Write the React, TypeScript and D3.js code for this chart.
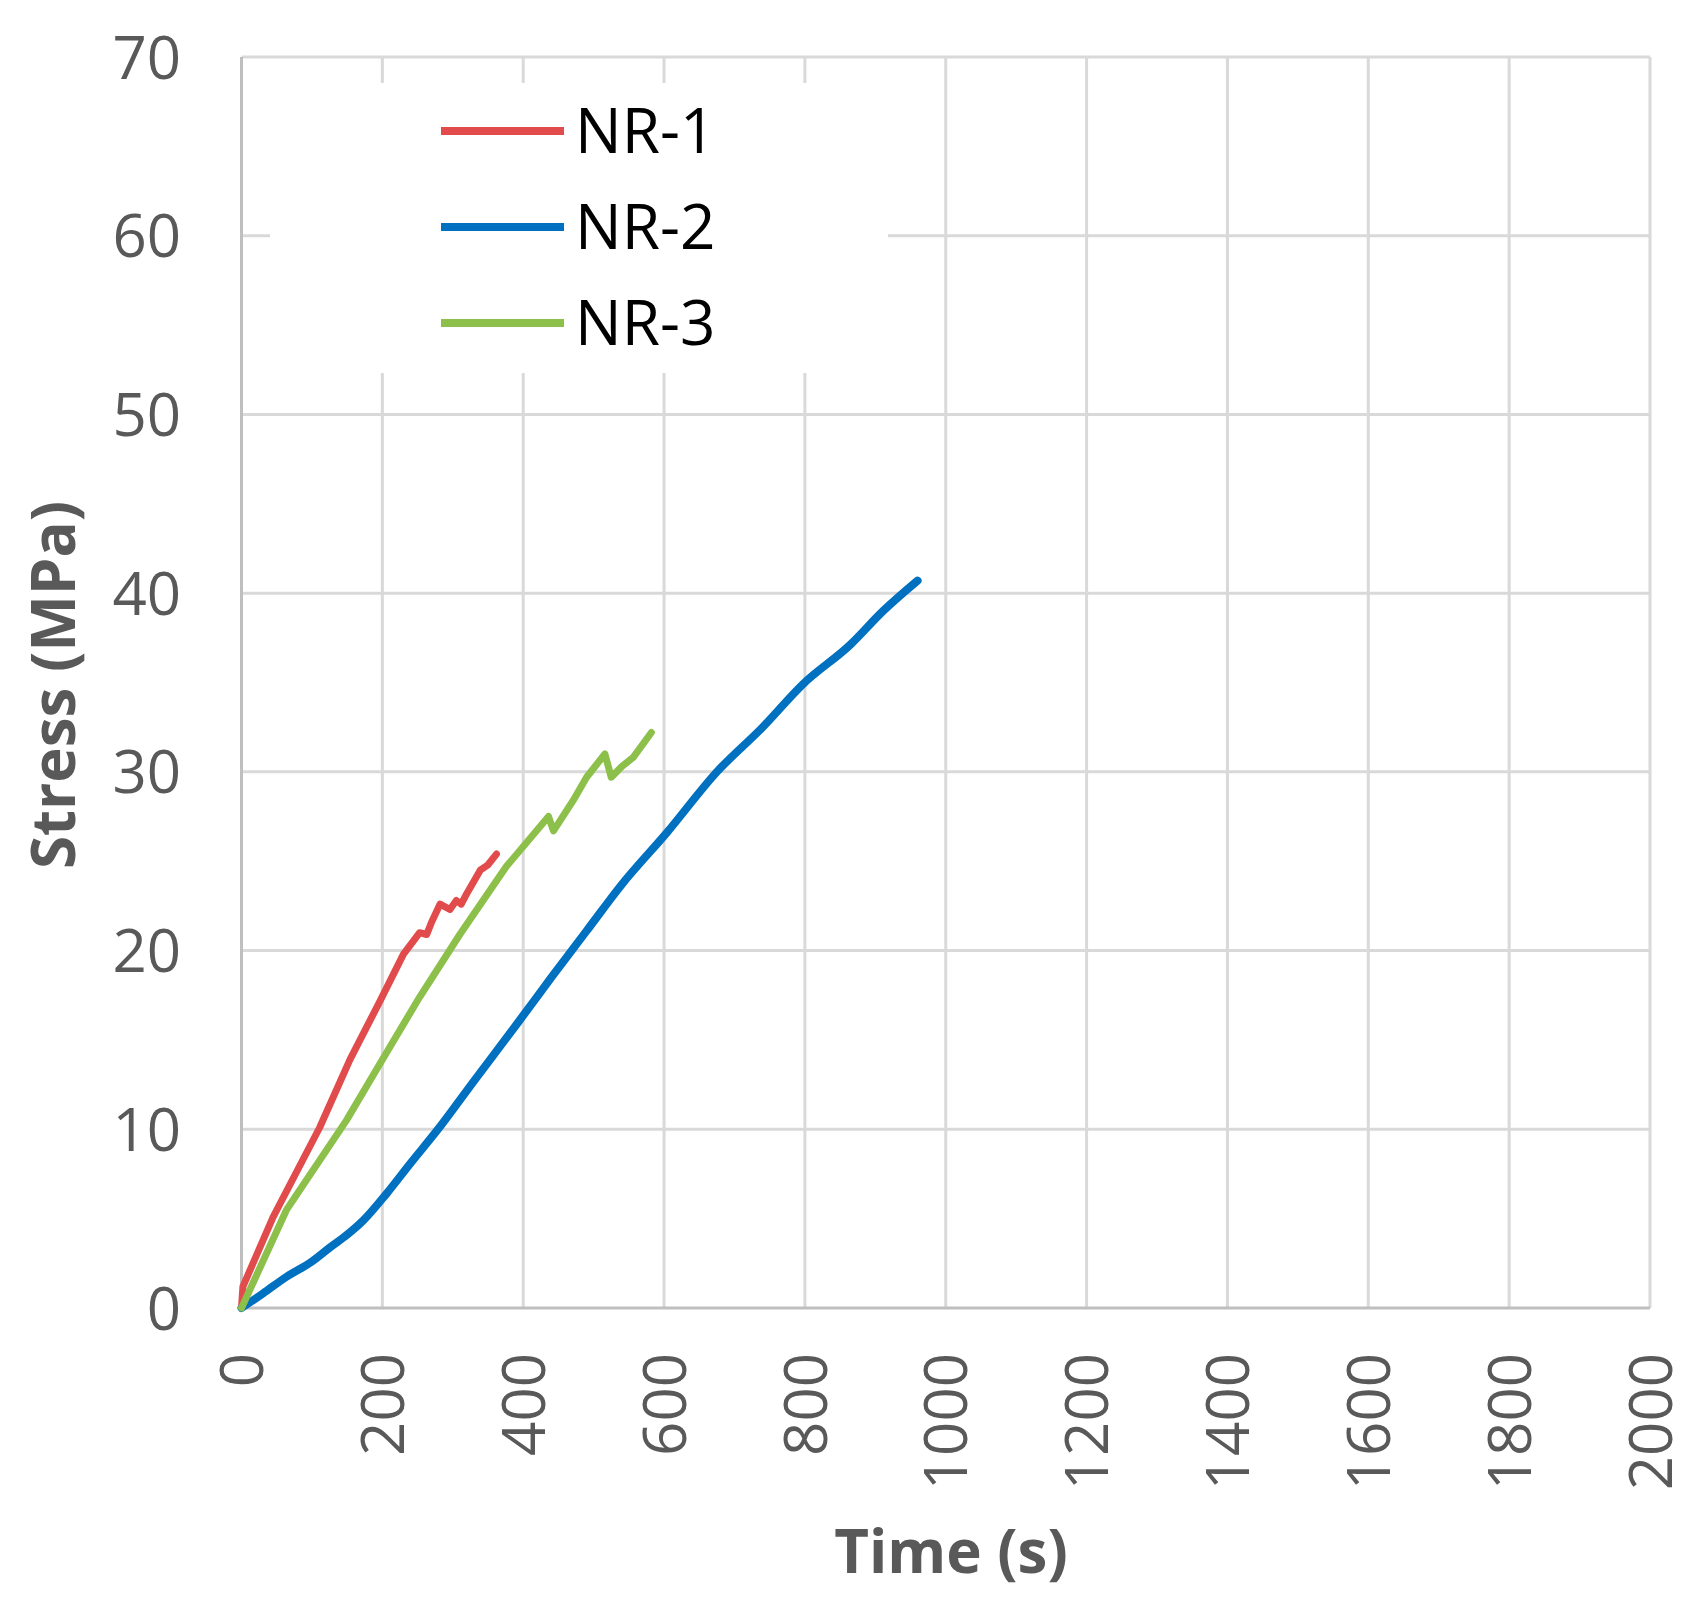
import React, { useEffect, useRef } from 'react';
import * as d3 from 'd3';

// values: [time (s), stress (MPa)]
const nr1: [number, number][] = [
  [0, 0], [2, 1.2], [45, 5.1], [111, 10.1], [154, 13.9], [197, 17.2], [230, 19.8],
  [253, 21.0], [263, 20.9], [270, 21.6], [282, 22.6], [296, 22.3], [305, 22.8],
  [312, 22.6], [320, 23.2], [339, 24.5], [350, 24.8], [362, 25.4],
];
const nr2: [number, number][] = [
  [0, 0], [30, 0.8], [64, 1.75], [100, 2.6], [126, 3.4], [150, 4.1], [173, 4.9],
  [206, 6.4], [240, 8.1], [277, 9.9], [330, 12.7], [395, 16.1], [440, 18.5],
  [490, 21.1], [540, 23.7], [604, 26.6], [675, 30.0], [740, 32.5], [797, 34.9],
  [864, 37.1], [911, 39.0], [960, 40.7],
];
const nr3: [number, number][] = [
  [0, 0], [64, 5.5], [149, 10.5], [197, 13.7], [253, 17.4], [310, 20.9], [376, 24.7],
  [436, 27.5], [443, 26.7], [471, 28.4], [490, 29.7], [516, 31.0], [525, 29.7],
  [540, 30.3], [556, 30.8], [582, 32.2],
];

const seriesNames = ['NR-1', 'NR-2', 'NR-3'];
const seriesColors = ['#E24B4B', '#0070C0', '#8CC04A'];
const seriesWidths = [7, 8, 7];
const xTicks = [0, 200, 400, 600, 800, 1000, 1200, 1400, 1600, 1800, 2000];
const yTicks = [0, 10, 20, 30, 40, 50, 60, 70];

const width = 1699;
const height = 1604;

const App = () => {
  const ref = useRef<SVGSVGElement>(null);

  useEffect(() => {
    const svg = d3.select(ref.current);
    svg.selectAll('*').remove();

    const x = d3.scaleLinear().domain([0, 2000]).range([241.5, 1650]);
    const y = d3.scaleLinear().domain([0, 70]).range([1308, 57]);
    const font = '"Open Sans", "DejaVu Sans", sans-serif';

    // grid
    svg.append('g')
      .selectAll('line')
      .data(xTicks.slice(1))
      .join('line')
      .attr('x1', d => x(d)).attr('x2', d => x(d))
      .attr('y1', y(0)).attr('y2', y(70))
      .attr('stroke', '#D9D9D9').attr('stroke-width', 3);
    svg.append('g')
      .selectAll('line')
      .data(yTicks.slice(1))
      .join('line')
      .attr('x1', x(0)).attr('x2', x(2000))
      .attr('y1', d => y(d)).attr('y2', d => y(d))
      .attr('stroke', '#D9D9D9').attr('stroke-width', 3);

    // axis lines
    svg.append('line')
      .attr('x1', x(0)).attr('x2', x(0)).attr('y1', y(0)).attr('y2', y(70))
      .attr('stroke', '#BFBFBF').attr('stroke-width', 3);
    svg.append('line')
      .attr('x1', x(0)).attr('x2', x(2000)).attr('y1', y(0)).attr('y2', y(0))
      .attr('stroke', '#BFBFBF').attr('stroke-width', 3);

    // tick labels
    svg.append('g')
      .selectAll('text')
      .data(yTicks)
      .join('text')
      .attr('x', 181)
      .attr('y', d => y(d))
      .attr('dy', '0.36em')
      .attr('text-anchor', 'end')
      .attr('font-family', font)
      .attr('font-size', 60)
      .attr('fill', '#595959')
      .text(d => d);
    svg.append('g')
      .selectAll('text')
      .data(xTicks)
      .join('text')
      .attr('transform', d => `translate(${x(d)},1353) rotate(-90)`)
      .attr('dy', '0.36em')
      .attr('text-anchor', 'end')
      .attr('font-family', font)
      .attr('font-size', 60)
      .attr('fill', '#595959')
      .text(d => d);

    // axis titles
    svg.append('text')
      .attr('x', 951).attr('y', 1573)
      .attr('text-anchor', 'middle')
      .attr('font-family', font).attr('font-weight', 'bold')
      .attr('font-size', 60).attr('fill', '#595959')
      .text('Time (s)');
    svg.append('text')
      .attr('transform', 'translate(75,685) rotate(-90)')
      .attr('text-anchor', 'middle')
      .attr('font-family', font).attr('font-weight', 'bold')
      .attr('font-size', 60).attr('fill', '#595959')
      .text('Stress (MPa)');

    // curves: NR-2 is smooth, the other two keep their jagged steps
    const straight = d3.line<[number, number]>()
      .x(d => x(d[0]))
      .y(d => y(d[1]));
    const smooth = d3.line<[number, number]>()
      .x(d => x(d[0]))
      .y(d => y(d[1]))
      .curve(d3.curveMonotoneX);
    [nr1, nr2, nr3].forEach((data, i) => {
      svg.append('path')
        .datum(data)
        .attr('d', i === 1 ? smooth : straight)
        .attr('fill', 'none')
        .attr('stroke', seriesColors[i])
        .attr('stroke-width', seriesWidths[i])
        .attr('stroke-linejoin', 'round')
        .attr('stroke-linecap', 'round');
    });

    // legend
    const legend = svg.append('g');
    legend.append('rect')
      .attr('x', 270).attr('y', 83).attr('width', 618).attr('height', 290)
      .attr('fill', '#fff');
    const items = legend.selectAll('g.item')
      .data(seriesNames)
      .join('g')
      .attr('class', 'item')
      .attr('transform', (_, i) => `translate(0,${131 + i * 96})`);
    items.append('line')
      .attr('x1', 441).attr('x2', 564)
      .attr('stroke', (_, i) => seriesColors[i])
      .attr('stroke-width', 8);
    items.append('text')
      .attr('x', 575)
      .attr('dy', '0.36em')
      .attr('font-family', font)
      .attr('font-size', 62)
      .attr('fill', '#000')
      .text(d => d);
  }, []);

  return (
    <svg
      ref={ref}
      width={width}
      height={height}
      style={{ position: 'absolute', left: 0, top: 0, background: '#fff' }}
    />
  );
};

export default App;
